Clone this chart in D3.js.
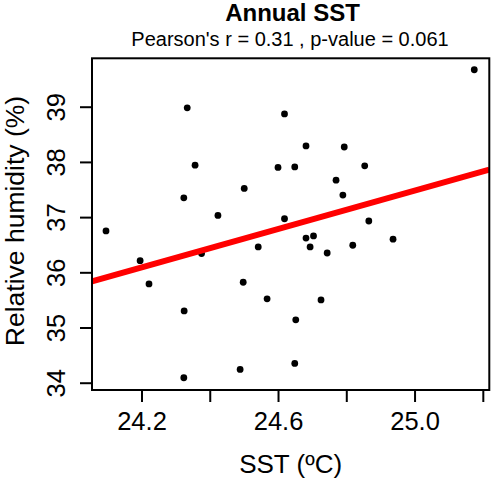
<!DOCTYPE html>
<html>
<head>
<meta charset="utf-8">
<script src="https://cdn.jsdelivr.net/npm/d3@7"></script>
<style>
  body { margin: 0; background: #fff; }
  text { font-family: "Liberation Sans", Arial, sans-serif; fill: #000; }
</style>
</head>
<body>
<svg id="chart" width="496" height="479"></svg>
<script>
// ---- data ----
const sstValues = [24.334, 24.619, 24.357, 24.600, 24.501, 24.324, 24.424, 24.619, 24.096, 25.175,
                   24.682, 24.794, 24.649, 24.854, 24.770, 24.790, 24.866, 24.196, 24.376, 24.542,
                   24.222, 24.498, 24.568, 24.325, 24.324, 24.489, 24.682, 24.704, 24.694, 24.744,
                   24.819, 24.937, 24.726, 24.652, 24.649];
const humidityValues = [38.98, 38.87, 37.94, 37.90, 37.52, 37.35, 37.03, 36.97, 36.75, 39.67,
                        38.29, 38.27, 37.91, 37.93, 37.67, 37.40, 36.93, 36.21, 36.34, 36.46,
                        35.79, 35.82, 35.52, 35.30, 34.09, 34.24, 36.62, 36.66, 36.46, 36.35,
                        36.49, 36.60, 35.50, 35.14, 34.35];
const xTicks = [24.2, 24.4, 24.6, 24.8, 25.0, 25.2];
const xTickLabels = ["24.2", "", "24.6", "", "25.0", ""];
const yTicks = [34, 35, 36, 37, 38, 39];
const yTickLabels = ["34", "35", "36", "37", "38", "39"];
const xDomain = [24.055, 25.219];
const yDomain = [33.868, 39.877];
const fitX = [24.055, 25.219];
const fitY = [35.837, 37.859];
const titleText = "Annual SST";
const subtitleText = "Pearson's r = 0.31 , p-value = 0.061";
const xLabel = "SST (ºC)";
const yLabel = "Relative humidity (%)";

// ---- layout ----
const L = 92, R = 489.3, T = 58.3, B = 390;
const svg = d3.select("#chart");
svg.append("rect").attr("width", 496).attr("height", 479).attr("fill", "#fff");

const x = d3.scaleLinear().domain(xDomain).range([L, R]);
const y = d3.scaleLinear().domain(yDomain).range([B, T]);

// points
svg.append("g").selectAll("circle")
  .data(sstValues.map((v, i) => [v, humidityValues[i]]))
  .join("circle")
  .attr("cx", d => x(d[0]))
  .attr("cy", d => y(d[1]))
  .attr("r", 3.4)
  .attr("fill", "#000");

// regression line
svg.append("defs").append("clipPath").attr("id", "clip")
  .append("rect").attr("x", L).attr("y", T).attr("width", R - L).attr("height", B - T);
svg.append("line")
  .attr("clip-path", "url(#clip)")
  .attr("x1", x(fitX[0])).attr("y1", y(fitY[0]))
  .attr("x2", x(fitX[1])).attr("y2", y(fitY[1]))
  .attr("stroke", "#ff0000").attr("stroke-width", 6);

// box
svg.append("rect").attr("x", L).attr("y", T).attr("width", R - L).attr("height", B - T)
  .attr("fill", "none").attr("stroke", "#000").attr("stroke-width", 2);

// x axis
const xAxis = d3.axisBottom(x).tickValues(xTicks).tickSize(12).tickPadding(0)
  .tickFormat((d, i) => xTickLabels[i]);
const gx = svg.append("g").attr("transform", `translate(0,${B})`).call(xAxis);
gx.select(".domain").remove();
gx.selectAll("line").attr("stroke", "#000").attr("stroke-width", 2);
gx.selectAll("text").attr("y", 40).attr("dy", 0).attr("font-size", 25.5)
  .style("font-family", "'Liberation Sans', Arial, sans-serif");

// y axis
const yAxis = d3.axisLeft(y).tickValues(yTicks).tickSize(12).tickFormat((d, i) => yTickLabels[i]);
const gy = svg.append("g").attr("transform", `translate(${L},0)`).call(yAxis);
gy.select(".domain").remove();
gy.selectAll("line").attr("stroke", "#000").attr("stroke-width", 2);
gy.selectAll("text")
  .attr("x", null).attr("dy", null)
  .attr("text-anchor", "middle")
  .attr("font-size", 25.5)
  .style("font-family", "'Liberation Sans', Arial, sans-serif")
  .attr("transform", `translate(${65 - L},0) rotate(-90)`);

// titles
svg.append("text").attr("x", 292.5).attr("y", 21).attr("text-anchor", "middle")
  .attr("font-size", 24).attr("font-weight", "bold").text(titleText);
svg.append("text").attr("x", 290).attr("y", 46).attr("text-anchor", "middle")
  .attr("font-size", 20).text(subtitleText);
svg.append("text").attr("x", (L + R) / 2).attr("y", 473).attr("text-anchor", "middle")
  .attr("font-size", 26).text(xLabel);
svg.append("text").attr("transform", `translate(24,221) rotate(-90)`)
  .attr("text-anchor", "middle").attr("font-size", 26.5).text(yLabel);
</script>
</body>
</html>
